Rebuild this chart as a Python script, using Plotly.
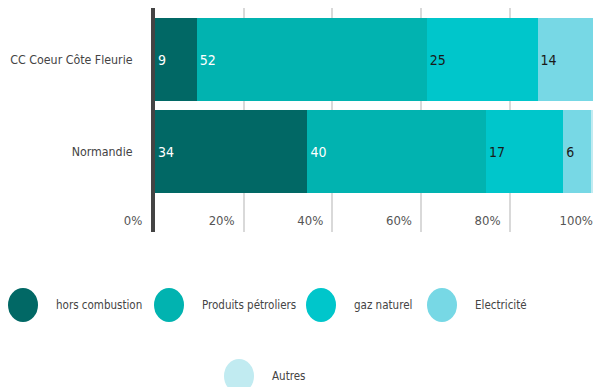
import plotly.graph_objects as go

# Data
regions = ['CC Coeur Côte Fleurie', 'Normandie']
sources = ['hors combustion', 'Produits pétroliers', 'gaz naturel', 'Electricité', 'Autres']
share_hors_combustion = [9.4, 34.4]
share_produits_petroliers = [51.9, 40.3]
share_gaz_naturel = [25.0, 17.4]
share_electricite = [13.7, 6.3]
share_autres = [0.0, 1.6]
x_tick_values = [0, 20, 40, 60, 80, 100]
x_tick_labels = ['0%', '20%', '40%', '60%', '80%', '100%']

series = [share_hors_combustion, share_produits_petroliers, share_gaz_naturel,
          share_electricite, share_autres]
colors = ['#016865', '#01b3b0', '#00c6cb', '#77d8e5', '#c1ebf1']
text_colors = ['white', 'white', '#1a1a1a', '#1a1a1a', '#1a1a1a']

FONT = 'Liberation Sans Narrow, DejaVu Sans Condensed, sans-serif'

# the page body has an 8px margin, so work in screen pixels and subtract it
OFF = 8
W, H = 601 - OFF, 387 - OFF
L, R, T, B = 155 - OFF, 600 - OFF, 8 - OFF, 232 - OFF


def px_x(px):
    return (px - OFF - L) / (R - L)


def px_y(py):
    return (B - (py - OFF)) / (B - T)


fig = go.Figure()
for name, vals, col, tcol in zip(sources, series, colors, text_colors):
    fig.add_trace(go.Bar(
        y=regions,
        x=vals,
        name=name,
        orientation='h',
        marker=dict(color=col, line=dict(width=0)),
        text=[f'{v:.0f}' if v >= 3 else '' for v in vals],
        textposition='inside',
        insidetextanchor='start',
        insidetextfont=dict(color=tcol, size=14, family=FONT),
        textangle=0,
        showlegend=False,
        hoverinfo='skip'
    ))

# legend drawn by hand: big circles + labels (screen pixel centres)
legend_pos = [(23, 305), (169, 305), (321, 305), (442, 305), (239, 376)]
shapes = []
annotations = []
for name, col, (cx, cy) in zip(sources, colors, legend_pos):
    shapes.append(dict(
        type='circle', xref='paper', yref='paper',
        xsizemode='pixel', ysizemode='pixel',
        xanchor=px_x(cx), yanchor=px_y(cy),
        x0=-15, x1=15, y0=-17, y1=17,
        fillcolor=col, line=dict(width=0)
    ))
    annotations.append(dict(
        xref='paper', yref='paper', x=px_x(cx + 31), y=px_y(cy),
        xanchor='left', yanchor='middle', showarrow=False,
        text=name, font=dict(size=11.5, color='#444', family=FONT)
    ))

fig.update_layout(
    width=W, height=H,
    margin=dict(l=L, r=W - R, t=T, b=H - B, pad=0),
    barmode='stack',
    bargap=0.1,
    plot_bgcolor='white',
    paper_bgcolor='white',
    font=dict(family=FONT, color='#444'),
    shapes=shapes,
    annotations=annotations,
    xaxis=dict(
        range=[0, 100.4],
        tickvals=x_tick_values,
        ticktext=x_tick_labels,
        showgrid=True,
        gridcolor='#d9d9d9',
        gridwidth=2,
        zeroline=False,
        ticks='',
        ticklabelposition='outside',
        ticklabelstandoff=-21,
        ticklabelshift=-22,
        tickfont=dict(size=13, color='#555', family=FONT),
        automargin=False,
        fixedrange=True
    ),
    yaxis=dict(
        categoryorder='array',
        categoryarray=regions[::-1],
        range=[-0.875, 1.56],
        showline=True,
        linecolor='#444',
        linewidth=4,
        ticks='',
        ticklabelstandoff=16,
        tickfont=dict(size=12.3, color='#444', family=FONT),
        showgrid=False,
        zeroline=False,
        automargin=False,
        fixedrange=True
    )
)

fig.write_html('out.html')
